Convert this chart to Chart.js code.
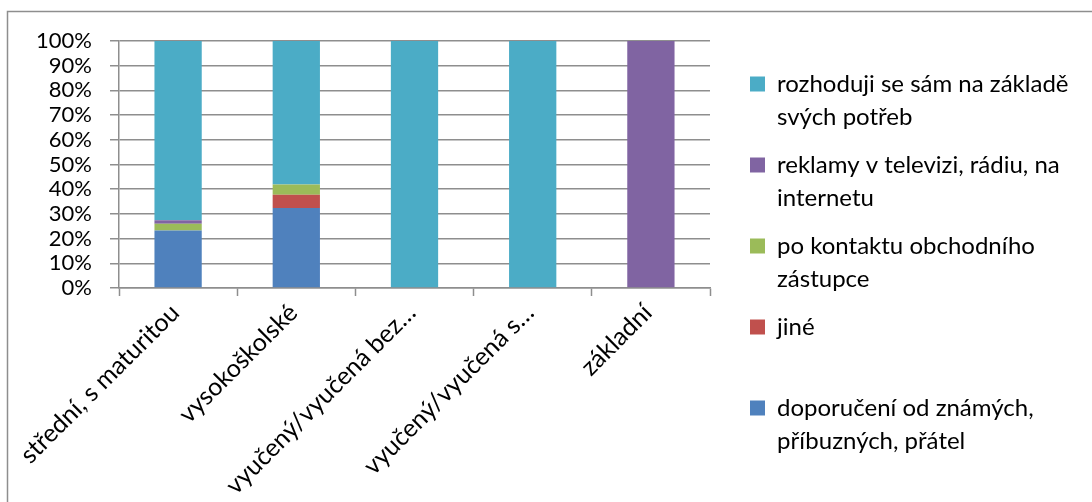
<!DOCTYPE html>
<html lang="cs">
<head>
<meta charset="utf-8">
<title>Rozhodování podle vzdělání</title>
<script src="https://cdn.jsdelivr.net/npm/chart.js@4/dist/chart.umd.min.js"></script>
<style>
  html, body { margin: 0; padding: 0; background: #ffffff; }
  #wrap { position: relative; width: 1092px; height: 502px; }
</style>
</head>
<body>
<div id="wrap"><canvas id="chart" width="1092" height="502"></canvas></div>
<script>
// Education groups along the x axis
const categories = [
  'střední, s maturitou',
  'vysokoškolské',
  'vyučený/vyučená bez…',
  'vyučený/vyučená s…',
  'základní'
];

// Share of answers (%) per group, one array per answer
const doporuceni = [23.3, 32.4, 0, 0, 0];
const jine       = [0, 5.4, 0, 0, 0];
const poKontaktu = [2.7, 4.1, 0, 0, 0];
const reklamy    = [1.4, 0, 0, 0, 100];
const rozhoduji  = [72.6, 58.1, 100, 100, 0];

// Series names, wrapped the way the legend shows them
// (trailing spaces on the widest line so the legend box is sized to it)
const seriesNames = [
  ['doporučení od známých,', 'příbuzných, přátel'],
  ['jiné', ''],
  ['po kontaktu obchodního', 'zástupce'],
  ['reklamy v televizi, rádiu, na', 'internetu'],
  ['rozhoduji se sám na základě   ', 'svých potřeb']
];

// Y axis ticks
const yTicks = [0, 10, 20, 30, 40, 50, 60, 70, 80, 90, 100];

const seriesData = [doporuceni, jine, poKontaktu, reklamy, rozhoduji];
const seriesColors = ['#4F81BD', '#C0504D', '#9BBB59', '#8064A2', '#4BACC6'];

const FONT = 'Lato, "Noto Sans", sans-serif';
const GRID = '#8e8e8e';
const LEGEND_SIZE = 24;

// Thin frame around the whole chart
const framePlugin = {
  id: 'frame',
  beforeDraw(chart) {
    const ctx = chart.ctx;
    ctx.save();
    ctx.fillStyle = '#ffffff';
    ctx.fillRect(0, 0, chart.width, chart.height);
    ctx.strokeStyle = GRID;
    ctx.lineWidth = 1.5;
    ctx.strokeRect(7.5, 11.5, chart.width + 20, chart.height + 20);
    ctx.restore();
  }
};

new Chart(document.getElementById('chart'), {
  type: 'bar',
  data: {
    labels: categories,
    datasets: seriesData.map((d, i) => ({
      label: seriesNames[i].join(' ').trim(),
      data: d,
      backgroundColor: seriesColors[i],
      borderWidth: 0,
      barPercentage: 0.4,
      categoryPercentage: 1.0
    }))
  },
  options: {
    responsive: false,
    animation: false,
    devicePixelRatio: 1,
    layout: { padding: { top: 41, bottom: 9, left: 0, right: 17 } },
    plugins: {
      tooltip: { enabled: false },
      legend: {
        position: 'right',
        align: 'center',
        reverse: true,
        maxWidth: 340,
        labels: {
          color: '#000000',
          font: { family: FONT, size: LEGEND_SIZE, lineHeight: 33 / LEGEND_SIZE },
          boxWidth: 15,
          boxHeight: 15,
          padding: 15,
          generateLabels(chart) {
            const items = Chart.defaults.plugins.legend.labels.generateLabels(chart);
            items.forEach(it => { it.text = seriesNames[it.datasetIndex]; it.lineWidth = 0; });
            return items;
          }
        }
      }
    },
    scales: {
      x: {
        stacked: true,
        offset: true,
        grid: {
          offset: true,
          drawOnChartArea: false,
          drawTicks: true,
          tickLength: 8,
          tickWidth: 1.5,
          tickColor: GRID
        },
        border: { display: true, color: GRID, width: 1.5 },
        ticks: {
          autoSkip: false,
          minRotation: 45,
          maxRotation: 45,
          padding: 2,
          labelOffset: -3,
          color: '#000000',
          font: { family: FONT, size: 25 }
        },
        afterFit(scale) { scale.height = 502 - 9 - 288; }
      },
      y: {
        stacked: true,
        min: 0,
        max: 100,
        afterBuildTicks(scale) { scale.ticks = yTicks.map(v => ({ value: v })); },
        grid: {
          color: GRID,
          lineWidth: 1.5,
          drawTicks: true,
          tickLength: 9
        },
        border: { display: true, color: GRID, width: 1.5 },
        ticks: {
          autoSkip: false,
          padding: 18,
          color: '#000000',
          font: { family: FONT, size: 22 },
          callback: v => v + '%'
        },
        afterFit(scale) {
          scale.width = 119;
          scale.paddingTop = 0;
          scale.paddingBottom = 0;
        }
      },
      gap: {
        position: 'right',
        display: true,
        grid: { display: false, drawTicks: false },
        border: { display: false },
        ticks: { display: false },
        afterFit(scale) { scale.width = 25; }
      }
    }
  },
  plugins: [framePlugin]
});
</script>
</body>
</html>
